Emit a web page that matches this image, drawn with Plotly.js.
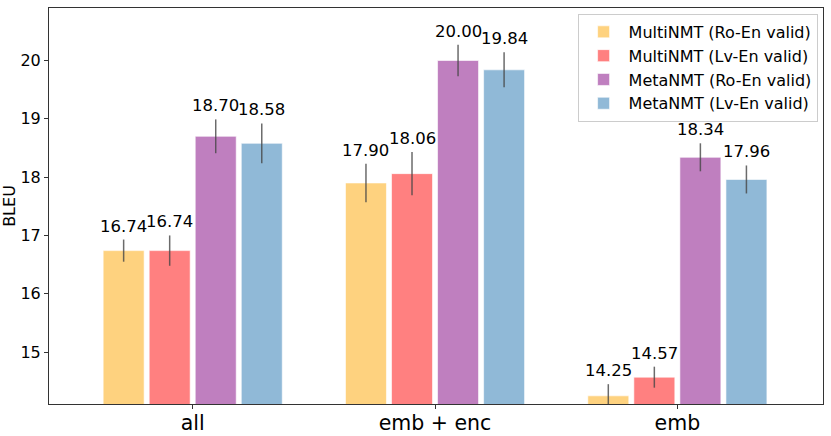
<!DOCTYPE html>
<html>
<head>
<meta charset="utf-8">
<script src="https://cdn.plot.ly/plotly-3.0.1.min.js"></script>
<style>html,body{margin:0;padding:0;background:#fff;}#chart{width:831px;height:436px;}</style>
</head>
<body>
<div id="chart"></div>
<script>
var categories = ["all", "emb + enc", "emb"];
var seriesNames = ["MultiNMT (Ro-En valid)", "MultiNMT (Lv-En valid)", "MetaNMT (Ro-En valid)", "MetaNMT (Lv-En valid)"];
var multiRo = [16.74, 17.90, 14.25];
var multiLv = [16.74, 18.06, 14.57];
var metaRo = [18.70, 20.00, 18.34];
var metaLv = [18.58, 19.84, 17.96];
var errMultiRo = [0.19, 0.33, 0.20];
var errMultiLv = [0.26, 0.37, 0.18];
var errMetaRo = [0.29, 0.27, 0.24];
var errMetaLv = [0.34, 0.30, 0.24];
var colors = ["rgb(254,210,127)", "rgb(255,128,128)", "rgb(191,127,191)", "rgb(144,185,215)"];

var values = [multiRo, multiLv, metaRo, metaLv];
var errs = [errMultiRo, errMultiLv, errMetaRo, errMetaLv];
var font = "DejaVu Sans, sans-serif";

var traces = values.map(function (v, i) {
  return {
    type: "bar",
    name: seriesNames[i],
    x: categories,
    y: v,
    marker: {color: colors[i], line: {color: "rgba(255,255,255,0.6)", width: 1}},
    error_y: {type: "data", array: errs[i], visible: true, color: "rgba(70,70,70,0.8)", thickness: 1.5, width: 0}
  };
});

var slot = 0.19;
var annotations = [];
values.forEach(function (v, i) {
  v.forEach(function (val, j) {
    annotations.push({
      x: j + (i - 1.5) * slot,
      y: val + errs[i][j],
      xref: "x", yref: "y",
      text: val.toFixed(2),
      showarrow: false,
      yanchor: "bottom",
      yshift: 2,
      font: {family: font, size: 16.5, color: "#000"}
    });
  });
});

var layout = {
  width: 831, height: 436,
  margin: {l: 49, r: 8, t: 8, b: 32},
  paper_bgcolor: "#fff", plot_bgcolor: "#fff",
  barmode: "group",
  bargap: 0.24,
  bargroupgap: 0.11,
  font: {family: font, color: "#000"},
  xaxis: {
    type: "category",
    range: [-0.593, 2.601],
    showline: true, linecolor: "#333", linewidth: 1, mirror: true,
    ticks: "outside", ticklen: 4, tickcolor: "#333",
    showgrid: false,
    ticklabelstandoff: -4,
    tickfont: {family: font, size: 20.5, color: "#000"}
  },
  yaxis: {
    range: [14.11, 20.9],
    tickvals: [15, 16, 17, 18, 19, 20],
    showline: true, linecolor: "#333", linewidth: 1, mirror: true,
    ticks: "outside", ticklen: 4, tickcolor: "#333",
    showgrid: false, zeroline: false,
    tickfont: {family: font, size: 16, color: "#000"},
    title: {text: "BLEU", font: {family: font, size: 16, color: "#000"}, standoff: 4}
  },
  legend: {
    x: 0.993, y: 0.985, xanchor: "right", yanchor: "top",
    bgcolor: "rgba(255,255,255,0.8)", bordercolor: "#ccc", borderwidth: 1,
    font: {family: font, size: 16, color: "#000"},
    tracegroupgap: 0, itemwidth: 40
  },
  annotations: annotations,
  showlegend: true
};

Plotly.newPlot("chart", traces, layout, {displayModeBar: false, staticPlot: true});
</script>
</body>
</html>
